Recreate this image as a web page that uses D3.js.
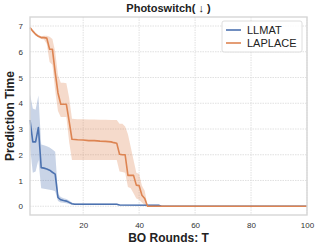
<!DOCTYPE html>
<html lang="en">

<head>
    <meta charset="UTF-8">
    <title>Photoswitch prediction time</title>
    <script src="https://d3js.org/d3.v7.min.js"></script>
    <style>
        body {
            margin: 0;
            background: #fff;
            font-family: 'Liberation Sans', Arial, sans-serif;
        }

        .grid line {
            stroke: #d9d9d9;
            stroke-width: .8;
            stroke-dasharray: 1.5 1;
        }

        .tick text {
            font-size: 8px;
            fill: #333;
        }

        .label {
            font-weight: bold;
            fill: #222;
        }
    </style>
</head>

<body>
    <svg width="319" height="248"></svg>
    <script>
        const width = 319;
        const height = 248;
        const margin = { top: 17, right: 12, bottom: 33, left: 30 };

        const xTicks = [20, 40, 60, 80, 100];
        const yTicks = [0, 1, 2, 3, 4, 5, 6, 7];
        const seriesNames = ["LLMAT", "LAPLACE"];
        const seriesColors = ["#4c72b0", "#dd8452"];

        // LLMAT: rounds where the curve changes, mean and band edges
        const llmatRounds = [1, 2, 3, 4, 5, 6, 7, 8, 9, 10, 11, 12, 13, 14, 15, 16, 17, 32, 33, 47, 48, 100];
        const llmatMean = [3.35, 2.5, 2.5, 3.06, 1.5, 1.48, 1.45, 1.4, 1.32, 1.25, 0.34, 0.25, 0.22, 0.2, 0.15, 0.1, 0.08, 0.08, 0.05, 0.04, 0, 0];
        const llmatLow = [2.3, 1.3, 1.35, 1.8, 0.7, 0.68, 0.66, 0.64, 0.62, 0.58, 0.2, 0.15, 0.14, 0.12, 0.09, 0.06, 0.05, 0.05, 0.03, 0.03, 0, 0];
        const llmatHigh = [4.35, 3.8, 3.75, 4.3, 2.4, 2.37, 2.33, 2.28, 2.2, 2.12, 0.48, 0.36, 0.31, 0.28, 0.22, 0.14, 0.12, 0.11, 0.07, 0.06, 0, 0];

        // LAPLACE
        const laplaceRounds = [1, 2, 3, 4, 5, 6, 7, 8, 9, 10, 11, 12, 13, 14, 15, 16, 18, 20, 22, 24, 26, 28, 30, 31, 32, 33, 34, 35, 36, 37, 38, 39, 40, 41, 42, 43, 100];
        const laplaceMean = [6.94, 6.8, 6.68, 6.6, 6.55, 6.55, 6.53, 6.1, 6.1, 5.2, 4.4, 3.96, 3.96, 3.96, 3.3, 2.6, 2.58, 2.57, 2.55, 2.55, 2.53, 2.52, 2.5, 2.47, 2.45, 2.02, 2.0, 2.0, 1.2, 1.2, 1.2, 0.82, 0.8, 0.43, 0.3, 0, 0];
        const laplaceLow = [6.89, 6.75, 6.63, 6.55, 6.5, 6.48, 6.3, 5.6, 5.5, 4.5, 3.7, 3.47, 3.47, 3.47, 2.5, 1.8, 1.8, 1.8, 1.8, 1.8, 1.8, 1.8, 1.8, 1.8, 1.8, 1.35, 1.33, 1.3, 0.75, 0.7, 0.5, 0.3, 0.25, 0.15, 0.05, 0, 0];
        const laplaceHigh = [6.99, 6.85, 6.73, 6.65, 6.6, 6.62, 6.62, 6.58, 6.5, 6.0, 5.1, 4.8, 4.8, 4.78, 4.2, 3.4, 3.38, 3.38, 3.37, 3.37, 3.36, 3.36, 3.35, 3.35, 3.35, 3.2, 3.2, 3.1, 2.8, 2.3, 1.8, 1.3, 1.25, 0.8, 0.6, 0, 0];

        const series = [
            { name: seriesNames[0], color: seriesColors[0], rounds: llmatRounds, mean: llmatMean, low: llmatLow, high: llmatHigh },
            { name: seriesNames[1], color: seriesColors[1], rounds: laplaceRounds, mean: laplaceMean, low: laplaceLow, high: laplaceHigh }
        ];

        const svg = d3.select("svg");

        const x = d3.scaleLinear()
            .domain([1, 100])
            .range([margin.left, width - margin.right]);

        const y = d3.scaleLinear()
            .domain([-0.34, 7.35])
            .range([height - margin.bottom, margin.top]);

        // grid
        svg.append("g").attr("class", "grid")
            .selectAll("line")
            .data(yTicks)
            .join("line")
            .attr("x1", margin.left).attr("x2", width - margin.right)
            .attr("y1", d => y(d)).attr("y2", d => y(d));

        svg.append("g").attr("class", "grid")
            .selectAll("line")
            .data(xTicks)
            .join("line")
            .attr("y1", margin.top).attr("y2", height - margin.bottom)
            .attr("x1", d => x(d)).attr("x2", d => x(d));

        // bands then lines
        series.forEach(s => {
            const pts = s.rounds.map((r, i) => ({ r: r, m: s.mean[i], lo: s.low[i], hi: s.high[i] }));
            s.pts = pts;
            svg.append("path")
                .datum(pts)
                .attr("fill", s.color)
                .attr("fill-opacity", 0.3)
                .attr("d", d3.area().x(d => x(d.r)).y0(d => y(d.lo)).y1(d => y(d.hi)));
        });

        series.forEach(s => {
            svg.append("path")
                .datum(s.pts)
                .attr("fill", "none")
                .attr("stroke", s.color)
                .attr("stroke-width", 1.6)
                .attr("stroke-linejoin", "round")
                .attr("d", d3.line().x(d => x(d.r)).y(d => y(d.m)));
        });

        // frame
        svg.append("rect")
            .attr("x", margin.left).attr("y", margin.top)
            .attr("width", width - margin.left - margin.right)
            .attr("height", height - margin.top - margin.bottom)
            .attr("fill", "none")
            .attr("stroke", "#d6d6d6")
            .attr("stroke-width", 1.4);

        // axes
        const xAxis = svg.append("g")
            .attr("transform", `translate(0,${height - margin.bottom})`)
            .call(d3.axisBottom(x).tickValues(xTicks).tickSize(0).tickPadding(7));
        xAxis.select(".domain").remove();

        const yAxis = svg.append("g")
            .attr("transform", `translate(${margin.left},0)`)
            .call(d3.axisLeft(y).tickValues(yTicks).tickSize(0).tickPadding(7));
        yAxis.select(".domain").remove();

        svg.selectAll(".tick text").attr("font-family", "'Liberation Sans', Arial, sans-serif");

        // titles
        const cx = (margin.left + width - margin.right) / 2;
        svg.append("text").attr("class", "label")
            .attr("x", cx).attr("y", 12)
            .attr("text-anchor", "middle")
            .attr("font-size", 11)
            .text("Photoswitch( ↓ )");

        svg.append("text").attr("class", "label")
            .attr("x", cx).attr("y", 242)
            .attr("text-anchor", "middle")
            .attr("font-size", 12)
            .text("BO Rounds: T");

        svg.append("text").attr("class", "label")
            .attr("transform", `translate(14,${(margin.top + height - margin.bottom) / 2}) rotate(-90)`)
            .attr("text-anchor", "middle")
            .attr("font-size", 12)
            .text("Prediction Time");

        // legend
        const lg = svg.append("g").attr("transform", "translate(222,21)");
        lg.append("rect")
            .attr("width", 80).attr("height", 31).attr("rx", 2)
            .attr("fill", "#fff").attr("fill-opacity", 0.85)
            .attr("stroke", "#d6d6d6").attr("stroke-width", 0.8);
        series.forEach((s, i) => {
            const row = lg.append("g").attr("transform", `translate(0,${9 + i * 13})`);
            row.append("line")
                .attr("x1", 4).attr("x2", 19)
                .attr("stroke", s.color).attr("stroke-width", 1.6);
            row.append("text")
                .attr("x", 25).attr("y", 4)
                .attr("font-size", 11)
                .attr("fill", "#222")
                .text(s.name);
        });
    </script>
</body>

</html>
